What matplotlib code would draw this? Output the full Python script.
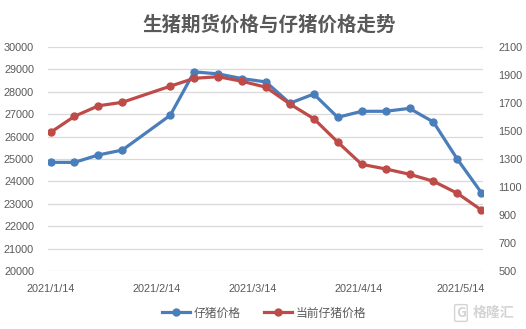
import matplotlib
matplotlib.use("Agg")
import matplotlib.pyplot as plt
import pandas as pd

plt.rcParams['font.family'] = ['Noto Sans CJK SC', 'DejaVu Sans']

dates = ["2021-01-14", "2021-01-21", "2021-01-28", "2021-02-04", "2021-02-18",
         "2021-02-25", "2021-03-04", "2021-03-11", "2021-03-18", "2021-03-25",
         "2021-04-01", "2021-04-08", "2021-04-15", "2021-04-22", "2021-04-29",
         "2021-05-06", "2021-05-13", "2021-05-20"]
blue_values = [24850, 24850, 25180, 25400, 26950, 28890, 28800, 28590, 28440,
               27490, 27900, 26860, 27130, 27130, 27260, 26650, 24990, 23500]
red_values = [1490, 1605, 1680, 1705, 1820, 1876, 1888, 1855, 1813,
              1693, 1588, 1421, 1262, 1229, 1191, 1141, 1055, 936]
blue_label = "仔猪价格"
red_label = "当前仔猪价格"
title = "生猪期货价格与仔猪价格走势"
xtick_dates = ["2021-01-14", "2021-02-14", "2021-03-14", "2021-04-14", "2021-05-14"]
xtick_labels = ["2021/1/14", "2021/2/14", "2021/3/14", "2021/4/14", "2021/5/14"]
left_ticks = list(range(20000, 30001, 1000))
right_ticks = list(range(500, 2101, 200))

x = pd.to_datetime(dates)
BLUE = "#4a7ebb"
RED = "#be4b48"
TXT = "#595959"
GRID = "#d9d9d9"

fig = plt.figure(figsize=(5.26, 3.29), dpi=100)
ax = fig.add_axes([48/526, 1-271/329, (483-48)/526, (271-47)/329])
ax2 = ax.twinx()

ax.plot(x, blue_values, color=BLUE, lw=2.3, marker='o', ms=5, label=blue_label, zorder=3)
ax2.plot(x, red_values, color=RED, lw=2.3, marker='o', ms=5, label=red_label, zorder=3)

ax.set_ylim(20000, 30000)
ax2.set_ylim(500, 2100)
ax.set_yticks(left_ticks)
ax2.set_yticks(right_ticks)
ax.set_xlim(pd.Timestamp("2021-01-13 06:00"), pd.Timestamp("2021-05-20 12:00"))
ax.set_xticks(pd.to_datetime(xtick_dates))
ax.set_xticklabels(xtick_labels)

ax.grid(axis='y', color=GRID, lw=0.9)
ax.set_axisbelow(True)
for a in (ax, ax2):
    for s in a.spines.values():
        s.set_visible(False)
    a.tick_params(length=0, colors=TXT, labelsize=7.8)
    for lab in a.get_xticklabels() + a.get_yticklabels():
        lab.set_fontfamily(['Liberation Sans', 'DejaVu Sans'])
ax.tick_params(axis='y', pad=10)
ax2.tick_params(axis='y', pad=11)
ax.tick_params(axis='x', pad=9)

fig.text(0.512, 1-25/329, title, ha='center', va='center', fontsize=14, color=TXT,
         fontweight='bold')

h1, l1 = ax.get_legend_handles_labels()
h2, l2 = ax2.get_legend_handles_labels()
fig.legend(h1 + h2, l1 + l2, loc='center', bbox_to_anchor=(264/526, 1-313/329),
           ncol=2, frameon=False, fontsize=8.5, labelcolor=TXT, handlelength=2.4,
           columnspacing=2.0, handletextpad=0.3)

fig.text(473/526, 1-313/329, "格隆汇", ha='left', va='center', fontsize=10,
         color="#d4d4d4", fontweight='bold')
fig.text(456/526, 1-313/329, "G", ha='left', va='center', fontsize=10,
         color="#d4d4d4", fontweight='bold',
         bbox=dict(boxstyle='round,pad=0.1', fc='none', ec='#d4d4d4', lw=1))

fig.savefig("out.png", dpi=100)
